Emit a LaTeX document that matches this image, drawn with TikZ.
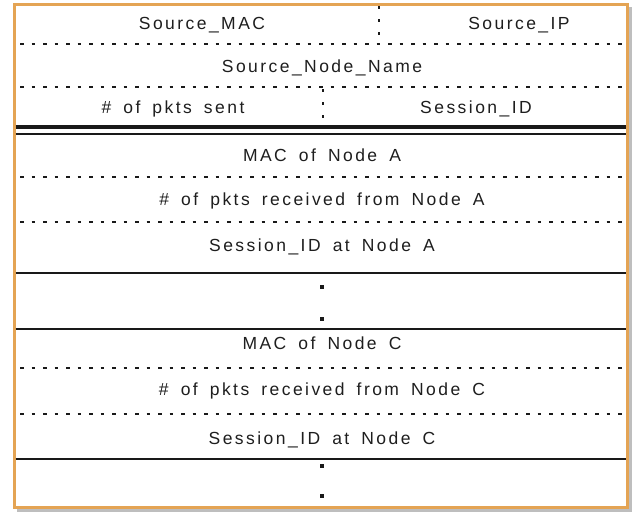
\documentclass[tikz,border=0pt]{standalone}
\usepackage{fontspec}
\newfontfamily\lblfont[LetterSpace=14,WordSpace=1.65]{Liberation Sans}
\definecolor{frameor}{RGB}{228,164,84}
\definecolor{shadowg}{RGB}{190,190,190}
\definecolor{txt}{RGB}{30,30,30}
\definecolor{ln}{RGB}{25,25,25}
\begin{document}
\begin{tikzpicture}[x=1pt,y=-1pt,
  lbl/.style={font=\lblfont\fontsize{17.5}{20}\selectfont, text=txt, inner sep=0pt, anchor=base},
  dotline/.style={draw=ln, line width=2.2pt, dash pattern=on 3.5pt off 8pt},
  vdot/.style={draw=ln, line width=2.6pt, dash pattern=on 2.6pt off 10.5pt},
  solidline/.style={draw=ln, line width=2pt},
  sq/.style={fill=ln, minimum size=3.6pt, inner sep=0pt, draw=none}]
\useasboundingbox (0,0) rectangle (636,514);
% shadow and frame
\fill[shadowg] (17,7) rectangle (632,512);
\draw[frameor, line width=3pt, fill=white] (14,4) rectangle (627,507);
% vertical dotted separators
\draw[vdot] (379,6) -- (379,44);
\draw[vdot] (323,89) -- (323,126);
% horizontal dotted lines
\foreach \yy in {44,87,177,222,368,414}
  \draw[dotline] (20,\yy) -- (627,\yy);
% solid lines
\draw[draw=ln, line width=3.2pt] (15.5,127) -- (625.5,127);
\draw[solidline] (15.5,134) -- (625.5,134);
\foreach \yy in {273,329,459}
  \draw[solidline] (15.5,\yy) -- (625.5,\yy);
% texts
\node[lbl] (smac) at (202,29) {Source\_MAC};
\node[lbl] (sip) at (519,29) {Source\_IP};
\node[lbl] (sname) at (322,72) {Source\_Node\_Name};
\node[lbl] (psent) at (173,113) {\# of pkts sent};
\node[lbl] (sid) at (476,113) {Session\_ID};
\node[lbl] (maca) at (322,161) {MAC of Node A};
\node[lbl] (pra) at (322,205) {\# of pkts received from Node A};
\node[lbl] (sida) at (322,251) {Session\_ID at Node A};
\node[lbl] (macc) at (322,349) {MAC of Node C};
\node[lbl] (prc) at (322,395) {\# of pkts received from Node C};
\node[lbl] (sidc) at (322,444) {Session\_ID at Node C};
% ellipsis dots
\node[sq] (d1) at (322,287) {};
\node[sq] (d2) at (322,319) {};
\node[sq] (d3) at (322,466) {};
\node[sq] (d4) at (322,496) {};
\end{tikzpicture}
\end{document}
